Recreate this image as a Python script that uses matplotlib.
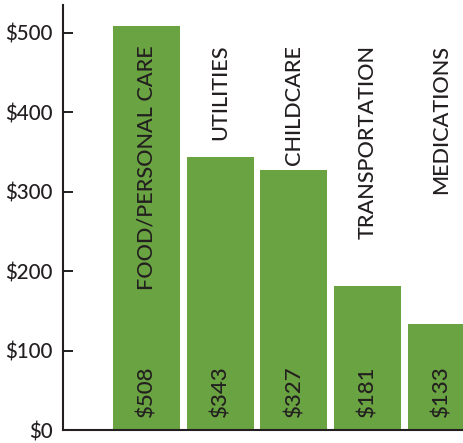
import matplotlib.pyplot as plt
import numpy as np

categories = ["FOOD/PERSONAL CARE", "UTILITIES", "CHILDCARE",
              "TRANSPORTATION", "MEDICATIONS"]
costs = [508, 343, 327, 181, 133]
value_labels = ["$508", "$343", "$327", "$181", "$133"]
yticks = [0, 100, 200, 300, 400, 500]
ytick_labels = ["$0", "$100", "$200", "$300", "$400", "$500"]

GREEN = "#6aa341"
INK = "#231f20"

plt.rcParams["font.family"] = ["Lato", "DejaVu Sans"]
plt.rcParams["font.weight"] = "medium"

fig = plt.figure(figsize=(4.63, 4.43), dpi=100)
ax = fig.add_axes([0.136, 0.029, 0.864, 0.96])

x = np.arange(len(costs))
ax.bar(x, costs, width=0.908, color=GREEN, zorder=1)

ax.set_xlim(-1.132, 4.292)
ax.set_ylim(0, 535)

for xi, name, val in zip(x, categories, value_labels):
    # category name hangs from a fixed height, value sits at the base
    ax.text(xi, 0.906, name, rotation=90, ha="center", va="top",
            fontsize=15.6, color=INK, transform=ax.get_xaxis_transform())
    ax.text(xi, 0.031, val, rotation=90, ha="center", va="bottom",
            fontsize=16, color=INK, transform=ax.get_xaxis_transform())

ax.set_yticks(yticks)
ax.set_yticklabels(ytick_labels)
ax.set_xticks([])
ax.tick_params(axis="y", direction="in", length=7.2, width=1.4,
               color=INK, labelcolor=INK, labelsize=14.8, pad=7.5)

for side in ("top", "right"):
    ax.spines[side].set_visible(False)
for side in ("left", "bottom"):
    ax.spines[side].set_color(INK)
    ax.spines[side].set_linewidth(1.5)
    ax.spines[side].set_zorder(3)

fig.savefig("out.png", dpi=100)
